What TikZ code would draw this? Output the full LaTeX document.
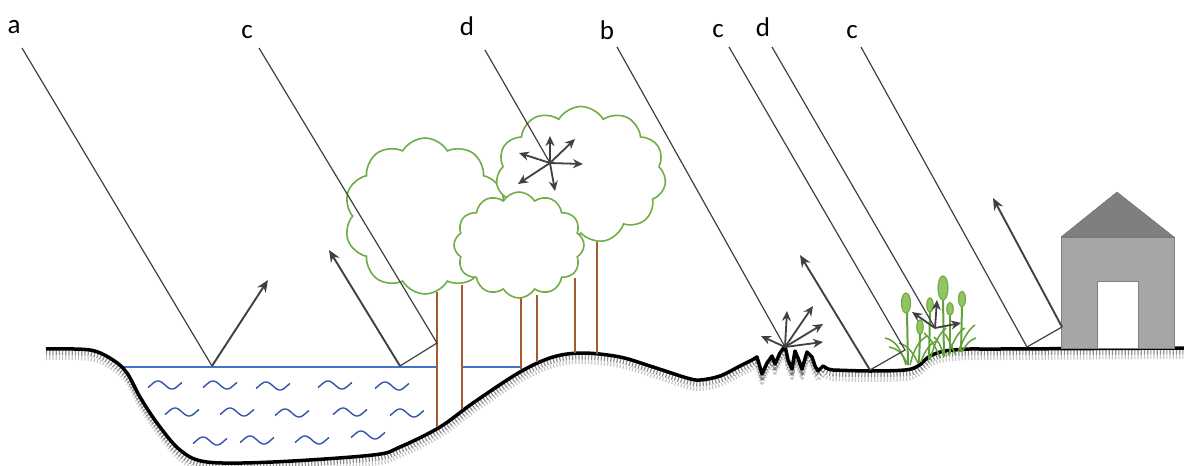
\documentclass[tikz,border=0pt]{standalone}
\usepackage{fontspec}
\setmainfont{Carlito}
\usetikzlibrary{arrows.meta,shapes.symbols}
\definecolor{leafgreen}{RGB}{112,173,71}
\definecolor{reedgreen}{RGB}{98,160,58}
\definecolor{headgreen}{RGB}{146,196,100}
\definecolor{waterblue}{RGB}{68,114,196}
\definecolor{waveblue}{RGB}{47,85,170}
\definecolor{barkbrown}{RGB}{165,90,45}
\definecolor{raygray}{RGB}{64,64,64}
\definecolor{wallgray}{RGB}{166,166,166}
\definecolor{roofgray}{RGB}{127,127,127}

% terrain profile, reused for the soil shading
\newcommand{\groundline}{plot[smooth,tension=0.55] coordinates {(46,349) (90,350) (113,360) (127,373) (140,397) (157,423) (180,450) (207,462) (273,462) (373,455) (400,447) (440,427) (473,403) (520,372) (553,357) (583,353) (620,357) (653,367) (687,378) (700,380) (720,376) (740,366) (752,360)}
  -- (757,357) -- (762,374) -- (767,363) -- (772,356) -- (775,364) -- (780,353) -- (785,346) -- (788,360) -- (792,369) -- (795,351) -- (798,358) -- (802,369) -- (807,352) -- (812,357) -- (815,366) -- (818,371) -- (823,366) -- (828,369)
  -- plot[smooth,tension=0.55] coordinates {(833,370) (870,371) (905,370) (918,366) (930,356) (945,351) (970,349) (1000,349) (1184,348)}}

\tikzset{
  ray/.style={raygray,line width=1.2},
  back/.style={raygray,line width=1.9,-{Stealth[length=12,width=10]}},
  spray/.style={raygray,line width=1.8,-{Stealth[length=10,width=9]}},
  canopy/.style={cloud,cloud puffs=11,cloud puff arc=120,cloud ignores aspect,
    draw=leafgreen,fill=white,line width=1.6,inner sep=0},
  trunk/.style={barkbrown,line width=1.8},
  soil/.style={line width=3.5,line join=round,black},
  haze/.style={draw=black,line width=5,dash pattern=on 1.2 off 2,line join=round},
  label/.style={font=\fontsize{27}{30}\selectfont,anchor=base,inner sep=0},
  ripple/.pic={\draw[waveblue,line width=1.4] plot[domain=-17:17,samples=30,smooth] (\x,{-4*sin(12.857*(\x+14))});},
  stalk/.style={reedgreen,line width=2},
  blade/.style={reedgreen,line width=1.5},
}

\begin{document}
\begin{tikzpicture}[x=1pt,y=-1pt]
    \useasboundingbox (0,0) rectangle (1184,466);

    % Pond
    \draw[waterblue,line width=1.4] (122,367) -- (437,367);
    \draw[waterblue,line width=1.4] (462,367) -- (521,367);
    \foreach \wx/\wy in {165/385,220/385,273/386,335/385,392/386,
                         182/412,237/412,292/413,350/412,407/413,
                         210/441,257/440,312/440,368/435}
        \pic at (\wx,\wy) {ripple};

    % Ground with soil shading
    \draw[haze,opacity=0.45,shift={(0,4)}] \groundline;
    \draw[haze,opacity=0.22,line width=4,shift={(0,9)}] \groundline;
    \draw[soil] \groundline;

    % Trunks
    \draw[trunk] (437,292) -- (437,427);
    \draw[trunk] (462,285) -- (462,409);
    \draw[trunk] (521,290) -- (521,369);
    \draw[trunk] (537,295) -- (537,362);
    \draw[trunk] (575,278) -- (575,353);
    \draw[trunk] (597,242) -- (597,354);

    % Canopies
    \node[canopy,cloud puffs=10,minimum width=162,minimum height=156] (tree1) at (425,216) {};
    \node[canopy,cloud puffs=11,minimum width=170,minimum height=137] (tree2) at (581,175) {};
    \node[canopy,cloud puffs=12,minimum width=130,minimum height=106] (tree3) at (519,245) {};

    % Reeds
    \foreach \sx/\sy/\ex/\ey in {907/313/908/365,920/334/919/363,930/312/929/360,
                                 943/300/944/356,950/315/950/354,962/306/961/352}
        \draw[stalk] (\sx,\sy) -- (\ex,\ey);
    \draw[blade] (906,365) .. controls (900,345) and (893,340) .. (885,338);
    \draw[blade] (908,365) .. controls (902,352) and (896,348) .. (889,347);
    \draw[blade] (910,365) .. controls (914,348) and (920,340) .. (927,336);
    \draw[blade] (918,363) .. controls (912,350) and (906,345) .. (899,343);
    \draw[blade] (921,362) .. controls (925,350) and (930,344) .. (936,341);
    \draw[blade] (930,360) .. controls (934,345) and (938,335) .. (946,328);
    \draw[blade] (940,358) .. controls (935,345) and (930,338) .. (924,333);
    \draw[blade] (944,357) .. controls (941,346) and (938,340) .. (934,337);
    \draw[blade] (948,355) .. controls (954,340) and (958,332) .. (965,328);
    \draw[blade] (958,352) .. controls (964,338) and (968,330) .. (975,325);
    \draw[blade] (962,352) .. controls (966,344) and (970,340) .. (976,338);
    \draw[blade] (955,354) .. controls (950,342) .. (945,334);
    \foreach \hx/\hy/\rx/\ry in {906/303/4.5/10,920/327/3.2/7,930/305/3.2/7,
                                 943/288/5/12,950/309/3.2/6.5,962/299/3.5/7.5}
        \draw[leafgreen,fill=headgreen,line width=1.2] (\hx,\hy) ellipse ({\rx} and {\ry});

    % House
    \draw[fill=wallgray,draw=gray] (1061,237) rectangle (1174,348);
    \draw[fill=roofgray,draw=gray!80!black] (1061,237) -- (1117,192) -- (1174,237) -- cycle;
    \draw[fill=white,draw=gray] (1097,281) rectangle (1138,348);

    % Labels and ray origins
    \node[label] (la)  at (14,33)  {a};
    \node[label] (lc1) at (247,38) {c};
    \node[label] (ld1) at (467,35) {d};
    \node[label] (lb)  at (607,39) {b};
    \node[label] (lc2) at (718,37) {c};
    \node[label] (ld2) at (763,36) {d};
    \node[label] (lc3) at (852,38) {c};
    \coordinate (sa)  at (22,48);
    \coordinate (sc1) at (259,48);
    \coordinate (sd1) at (485,50);
    \coordinate (sb)  at (617,47);
    \coordinate (sc2) at (729,47);
    \coordinate (sd2) at (772,47);
    \coordinate (sc3) at (861,47);

    % Hit points
    \coordinate (pond)   at (212,366);
    \coordinate (bark)   at (437,343);
    \coordinate (shore)  at (400,366);
    \coordinate (leaves) at (550,163);
    \coordinate (rough)  at (785,347);
    \coordinate (stem)   at (905,350);
    \coordinate (marsh)  at (870,370);
    \coordinate (reeds)  at (935,328);
    \coordinate (yard)   at (1027,347);
    \coordinate (wall)   at (1062,327);

    % a: mirror reflection on the pond
    \draw[ray] (sa) -- (pond);
    \draw[back] (pond) -- (268,280);

    % c: double bounce trunk / water
    \draw[ray] (sc1) -- (bark) -- (shore);
    \draw[back] (shore) -- (329,250);

    % d: volume scattering in the crown
    \draw[ray] (sd1) -- (leaves);
    \foreach \dx/\dy in {0/-27,25/-24,33/1,5/28,-32/21,-31/-10}
        \draw[spray] (leaves) -- ++(\dx,\dy);

    % b: rough surface
    \draw[ray] (sb) -- (rough);
    \foreach \dx/\dy in {2/-36,28/-41,38/-23,38/-5,-24/-11}
        \draw[spray] (rough) -- ++(\dx,\dy);

    % c: double bounce stem / ground
    \draw[ray] (sc2) -- (stem) -- (marsh);
    \draw[back] (marsh) -- (800,255);

    % d: scattering in the reeds
    \draw[ray] (sd2) -- (reeds);
    \foreach \dx/\dy in {-23/-16,2/-28,26/-5}
        \draw[spray] (reeds) -- ++(\dx,\dy);

    % c: double bounce ground / wall
    \draw[ray] (sc3) -- (yard) -- (wall);
    \draw[back] (wall) -- (993,198);
\end{tikzpicture}
\end{document}
